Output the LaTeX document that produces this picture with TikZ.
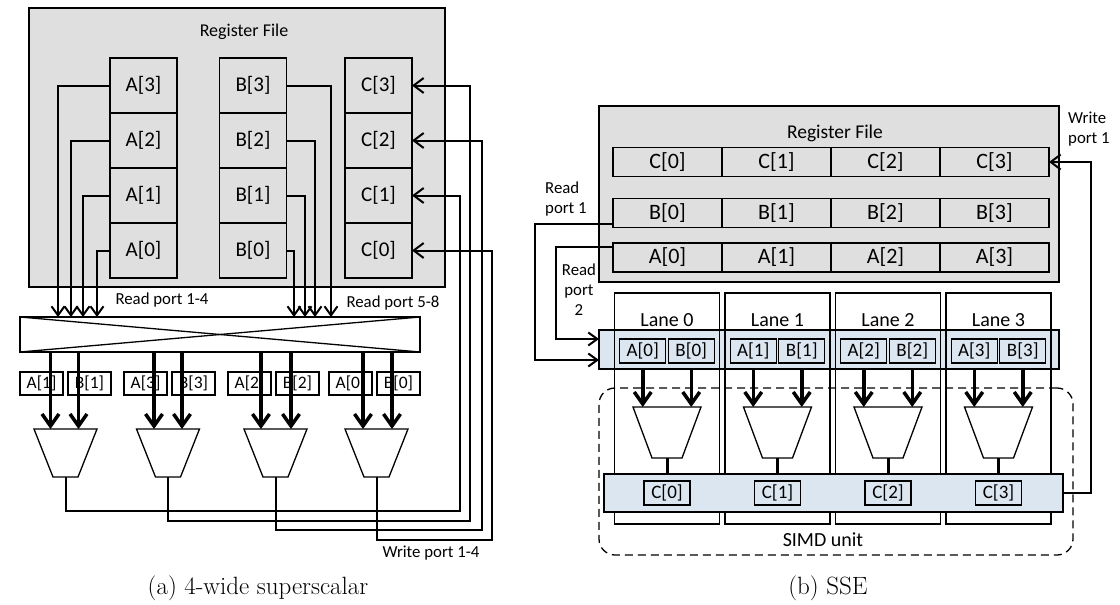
\documentclass[tikz,border=0pt]{standalone}
\usepackage{fontspec}
\newfontfamily\calibri{Carlito}
\usetikzlibrary{calc}
\usetikzlibrary{positioning}
\usetikzlibrary{arrows.meta}

\definecolor{rfgray}{RGB}{223,223,223}
\definecolor{laneblue}{RGB}{220,230,240}

\begin{document}
\begin{tikzpicture}[x=1pt,y=-1pt,
  thin/.style={line width=1.3pt},
  rfbox/.style={draw, thin, fill=rfgray, inner sep=0pt, outer sep=0pt},
  cella/.style={rfbox, minimum width=67pt, minimum height=55pt, font=\calibri\fontsize{21}{24}\selectfont},
  cellb/.style={rfbox, line width=1.6pt, minimum width=109pt, minimum height=29pt, font=\calibri\fontsize{22}{24}\selectfont},
  opbox/.style={draw, thin, fill=white, inner sep=0pt, outer sep=0pt, minimum width=43pt, minimum height=23pt, font=\calibri\fontsize{17.5}{20}\selectfont},
  opboxb/.style={draw, thin, fill=laneblue, inner sep=0pt, outer sep=0pt, minimum width=46pt, minimum height=24pt, font=\calibri\fontsize{19}{21}\selectfont},
  band/.style={draw, thin, fill=laneblue, inner sep=0pt, outer sep=0pt},
  lane/.style={draw, thin, inner sep=0pt, outer sep=0pt, minimum width=105pt, minimum height=231pt},
  alu/.style={draw, thin, fill=white, line join=miter},
  title/.style={font=\calibri\fontsize{18}{20}\selectfont, inner sep=0pt},
  port/.style={font=\calibri\fontsize{16.8}{20}\selectfont, inner sep=0pt},
  lanetxt/.style={font=\calibri\fontsize{20}{22}\selectfont, inner sep=0pt},
  caption/.style={font=\fontsize{25}{30}\selectfont, inner sep=0pt},
  rdarrow/.style={line width=2pt, -{Straight Barb[length=9pt,width=13pt]}},
  wrarrow/.style={line width=2pt, -{Straight Barb[length=10pt,width=15pt]}},
  oparrow/.style={line width=3.5pt, -{Straight Barb[length=12pt,width=17pt]}},
  simd/.style={draw, thin, dash pattern=on 8pt off 5pt, rounded corners=16pt, inner sep=0pt, minimum width=474pt, minimum height=167pt}]

\useasboundingbox (0,0) rectangle (1120,605);

% ---------- (a) 4-wide superscalar ----------
\node[rfbox, minimum width=416pt, minimum height=279pt] (rfa) at (237,147.5) {};
\node[title] (rfatitle) at (244,32) {Register File};

% register columns
\node[cella] (a3) at (143.5,85.5) {A[3]};
\node[cella, below=0pt of a3] (a2) {A[2]};
\node[cella, below=0pt of a2] (a1) {A[1]};
\node[cella, below=0pt of a1] (a0) {A[0]};

\node[cella] (b3) at (253,85.5) {B[3]};
\node[cella, below=0pt of b3] (b2) {B[2]};
\node[cella, below=0pt of b2] (b1) {B[1]};
\node[cella, below=0pt of b1] (b0) {B[0]};

\node[cella] (c3) at (378.5,85.5) {C[3]};
\node[cella, below=0pt of c3] (c2) {C[2]};
\node[cella, below=0pt of c2] (c1) {C[1]};
\node[cella, below=0pt of c1] (c0) {C[0]};

% crossbar
\node[draw, thin, fill=white, inner sep=0pt, outer sep=0pt, minimum width=400pt, minimum height=35pt] (xbar) at (220,334.5) {};
\draw[thin] (xbar.north west) -- (xbar.south east);
\draw[thin] (xbar.south west) -- (xbar.north east);

% read ports
\coordinate (rp1) at (58,317);
\coordinate (rp2) at (71,317);
\coordinate (rp3) at (83,317);
\coordinate (rp4) at (97,317);
\coordinate (rp5) at (294,317);
\coordinate (rp6) at (305,317);
\coordinate (rp7) at (315,317);
\coordinate (rp8) at (331,317);
\draw[rdarrow] (a3.west) -| (rp1);
\draw[rdarrow] (a2.west) -| (rp2);
\draw[rdarrow] (a1.west) -| (rp3);
\draw[rdarrow] (a0.west) -| (rp4);
\draw[rdarrow] (b0.east) -| (rp5);
\draw[rdarrow] (b1.east) -| (rp6);
\draw[rdarrow] (b2.east) -| (rp7);
\draw[rdarrow] (b3.east) -| (rp8);

\node[port] (rpa) at (162,300) {Read port 1-4};
\node[port] (rpb) at (393,303) {Read port 5-8};

% operands
\node[opbox] (oa1) at (41.5,383.5) {A[1]};
\node[opbox, right=5pt of oa1] (ob1) {B[1]};
\node[opbox] (oa3) at (145.5,383.5) {A[3]};
\node[opbox, right=5pt of oa3] (ob3) {B[3]};
\node[opbox] (oa2) at (249.5,383.5) {A[2]};
\node[opbox, right=5pt of oa2] (ob2) {B[2]};
\node[opbox] (oa0) at (350.5,383.5) {A[0]};
\node[opbox, right=5pt of oa0] (ob0) {B[0]};

% ALUs (top and bottom middle)
\coordinate (alu1n) at (65.5,429);  \coordinate (alu1s) at (65.5,477);
\coordinate (alu2n) at (168,429);   \coordinate (alu2s) at (168,477);
\coordinate (alu3n) at (275.5,429); \coordinate (alu3s) at (275.5,477);
\coordinate (alu4n) at (376.5,429); \coordinate (alu4s) at (376.5,477);
\draw[alu] (alu1n) ++(-31.5,0) -- ++(63,0) -- ++(-19,48) -- ++(-25,0) -- cycle;
\draw[alu] (alu2n) ++(-31.5,0) -- ++(63,0) -- ++(-19,48) -- ++(-25,0) -- cycle;
\draw[alu] (alu3n) ++(-31.5,0) -- ++(63,0) -- ++(-19,48) -- ++(-25,0) -- cycle;
\draw[alu] (alu4n) ++(-31.5,0) -- ++(63,0) -- ++(-19,48) -- ++(-25,0) -- cycle;

\coordinate (in1a) at ([xshift=-15pt]alu1n);
\coordinate (in1b) at ([xshift=13pt]alu1n);
\coordinate (in2a) at ([xshift=-14pt]alu2n);
\coordinate (in2b) at ([xshift=14pt]alu2n);
\coordinate (in3a) at ([xshift=-14.5pt]alu3n);
\coordinate (in3b) at ([xshift=15.5pt]alu3n);
\coordinate (in4a) at ([xshift=-13.5pt]alu4n);
\coordinate (in4b) at ([xshift=15.5pt]alu4n);
\draw[oparrow] (xbar.south -| in1a) -- (in1a);
\draw[oparrow] (xbar.south -| in1b) -- (in1b);
\draw[oparrow] (xbar.south -| in2a) -- (in2a);
\draw[oparrow] (xbar.south -| in2b) -- (in2b);
\draw[oparrow] (xbar.south -| in3a) -- (in3a);
\draw[oparrow] (xbar.south -| in3b) -- (in3b);
\draw[oparrow] (xbar.south -| in4a) -- (in4a);
\draw[oparrow] (xbar.south -| in4b) -- (in4b);

% write back
\coordinate (wp1) at (460,511);
\coordinate (wp2) at (470,521);
\coordinate (wp3) at (482,530);
\coordinate (wp4) at (492,540);
\draw[wrarrow] (alu1s) |- (wp1) |- (c1.east);
\draw[wrarrow] (alu2s) |- (wp2) |- (c3.east);
\draw[wrarrow] (alu3s) |- (wp3) |- (c2.east);
\draw[wrarrow] (alu4s) |- (wp4) |- (c0.east);

\node[port] (wpa) at (431,553) {Write port 1-4};
\node[caption] (capa) at (258,588) {(a) 4-wide superscalar};

% ---------- (b) SSE ----------
\node[rfbox, minimum width=460pt, minimum height=176pt] (rfb) at (829,194) {};
\node[title, font=\calibri\fontsize{19.5}{22}\selectfont] (rfbtitle) at (835,133) {Register File};

% register rows
\node[cellb] (rc0) at (667.5,162) {C[0]};
\node[cellb, right=0pt of rc0] (rc1) {C[1]};
\node[cellb, right=0pt of rc1] (rc2) {C[2]};
\node[cellb, right=0pt of rc2] (rc3) {C[3]};

\node[cellb] (rb0) at (667.5,213) {B[0]};
\node[cellb, right=0pt of rb0] (rb1) {B[1]};
\node[cellb, right=0pt of rb1] (rb2) {B[2]};
\node[cellb, right=0pt of rb2] (rb3) {B[3]};

\node[cellb] (ra0) at (667.5,257.5) {A[0]};
\node[cellb, right=0pt of ra0] (ra1) {A[1]};
\node[cellb, right=0pt of ra1] (ra2) {A[2]};
\node[cellb, right=0pt of ra2] (ra3) {A[3]};

% lanes
\node[band, minimum width=460pt, minimum height=39pt] (band) at (829,349.5) {};
\node[lane] (lane0) at (667,408.5) {};
\node[lane, right=5.5pt of lane0] (lane1) {};
\node[lane, right=5.5pt of lane1] (lane2) {};
\node[lane, right=5.5pt of lane2] (lane3) {};
\node[band, minimum width=459pt, minimum height=38pt] (cband) at (833.5,493) {};

\node[lanetxt] (lt0) at ([yshift=-27pt]lane0.north) {Lane 0};
\node[lanetxt] (lt1) at ([yshift=-27pt]lane1.north) {Lane 1};
\node[lanetxt] (lt2) at ([yshift=-27pt]lane2.north) {Lane 2};
\node[lanetxt] (lt3) at ([yshift=-27pt]lane3.north) {Lane 3};

% operands
\node[opboxb] (ba0) at (642.75,351) {A[0]};
\node[opboxb, right=2.5pt of ba0] (bb0) {B[0]};
\node[opboxb] (ba1) at (753.25,351) {A[1]};
\node[opboxb, right=2.5pt of ba1] (bb1) {B[1]};
\node[opboxb] (ba2) at (863.75,351) {A[2]};
\node[opboxb, right=2.5pt of ba2] (bb2) {B[2]};
\node[opboxb] (ba3) at (974.25,351) {A[3]};
\node[opboxb, right=2.5pt of ba3] (bb3) {B[3]};

% ALUs (top and bottom middle)
\coordinate (alb0n) at (667,407);   \coordinate (alb0s) at (667,458);
\coordinate (alb1n) at (777.5,407); \coordinate (alb1s) at (777.5,458);
\coordinate (alb2n) at (888,407);   \coordinate (alb2s) at (888,458);
\coordinate (alb3n) at (998.5,407); \coordinate (alb3s) at (998.5,458);
\draw[alu] (alb0n) ++(-34,0) -- ++(68,0) -- ++(-19,51) -- ++(-30,0) -- cycle;
\draw[alu] (alb1n) ++(-34,0) -- ++(68,0) -- ++(-19,51) -- ++(-30,0) -- cycle;
\draw[alu] (alb2n) ++(-34,0) -- ++(68,0) -- ++(-19,51) -- ++(-30,0) -- cycle;
\draw[alu] (alb3n) ++(-34,0) -- ++(68,0) -- ++(-19,51) -- ++(-30,0) -- cycle;

\draw[oparrow] (ba0 |- band.south) -- (ba0 |- alb0n);
\draw[oparrow] (bb0 |- band.south) -- (bb0 |- alb0n);
\draw[oparrow] (ba1 |- band.south) -- (ba1 |- alb1n);
\draw[oparrow] (bb1 |- band.south) -- (bb1 |- alb1n);
\draw[oparrow] (ba2 |- band.south) -- (ba2 |- alb2n);
\draw[oparrow] (bb2 |- band.south) -- (bb2 |- alb2n);
\draw[oparrow] (ba3 |- band.south) -- (ba3 |- alb3n);
\draw[oparrow] (bb3 |- band.south) -- (bb3 |- alb3n);

\draw[line width=3pt] (alb0s) -- (alb0s |- cband.north);
\draw[line width=3pt] (alb1s) -- (alb1s |- cband.north);
\draw[line width=3pt] (alb2s) -- (alb2s |- cband.north);
\draw[line width=3pt] (alb3s) -- (alb3s |- cband.north);

% results
\node[opboxb] (cc0) at (alb0s |- cband) {C[0]};
\node[opboxb] (cc1) at (alb1s |- cband) {C[1]};
\node[opboxb] (cc2) at (alb2s |- cband) {C[2]};
\node[opboxb] (cc3) at (alb3s |- cband) {C[3]};

% read and write ports
\coordinate (rq1) at (535,360);
\coordinate (rq2) at (556,339);
\draw[rdarrow] ([yshift=4pt]rb0.south west) -| (rq1) -- (rq1 -| band.west);
\draw[rdarrow] ([yshift=-4pt]ra0.north west) -| (rq2) -- (rq2 -| band.west);
\coordinate (wq) at (1091,162);
\draw[wrarrow] (cband.east) -| (wq) -- (rc3.east);

\node[port, align=left, anchor=west] (rpc) at (545,199) {Read\\port 1};
\node[port, align=center] (rpd) at (579,290) {Read\\port\\2};
\node[port, align=left, anchor=west] (wpb) at (1068,129) {Write\\port 1};

% SIMD unit
\node[simd] (simdu) at (836,471.5) {};
\node[lanetxt] (simdtxt) at (823,540) {SIMD unit};

\node[caption] (capb) at (828,588) {(b) SSE};

\end{tikzpicture}
\end{document}
